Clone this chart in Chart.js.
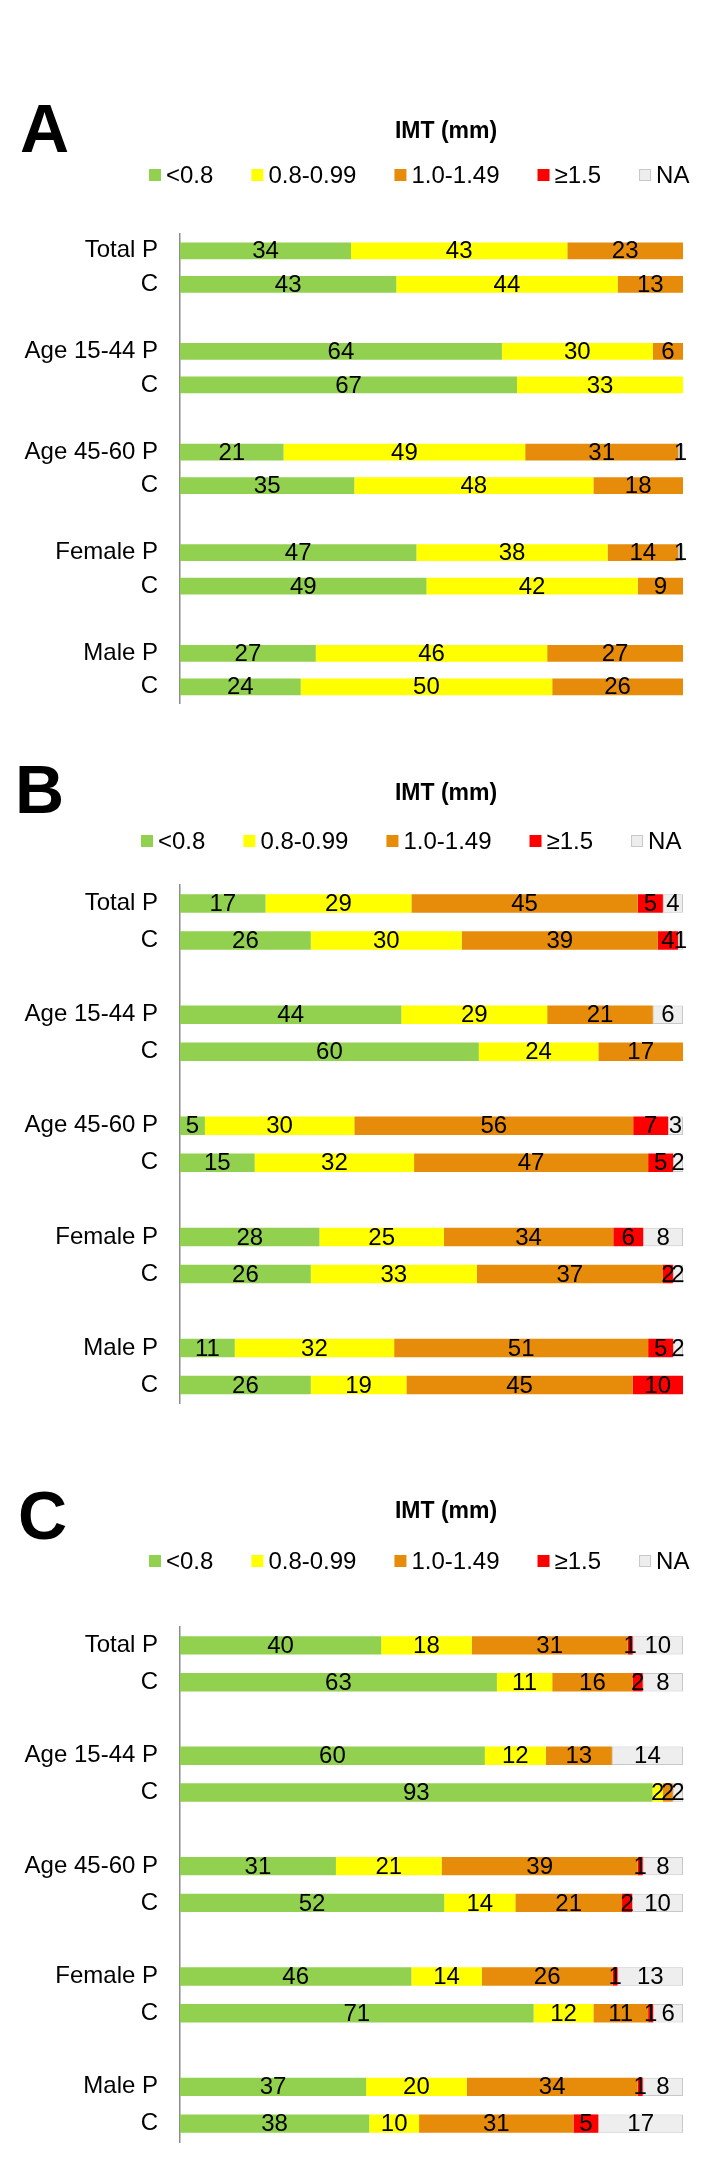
<!DOCTYPE html>
<html>
<head>
<meta charset="utf-8">
<script src="https://cdn.jsdelivr.net/npm/chart.js@4.4.1/dist/chart.umd.min.js"></script>
<style>
  html, body { margin: 0; padding: 0; background: #fff; }
  body { width: 720px; height: 2182px; position: relative; overflow: hidden; }
  canvas { position: absolute; left: 0; }
</style>
</head>
<body>
<canvas id="panelA" width="720" height="660" style="top:80px"></canvas>
<canvas id="panelB" width="720" height="700" style="top:740px"></canvas>
<canvas id="panelC" width="720" height="742" style="top:1440px"></canvas>
<script>
const rowLabels = ['Total P', 'C', 'Age 15-44 P', 'C', 'Age 45-60 P', 'C', 'Female P', 'C', 'Male P', 'C'];
const seriesNames = ['<0.8', '0.8-0.99', '1.0-1.49', '≥1.5', 'NA'];
const seriesColors = ['#92d050', '#ffff00', '#e68b0a', '#ff0000', '#eeeeee'];
const chartTitle = 'IMT (mm)';

// panel A
const aBelow08 = [34, 43, 64, 67, 21, 35, 47, 49, 27, 24];
const a08to099 = [43, 44, 30, 33, 49, 48, 38, 42, 46, 50];
const a10to149 = [23, 13, 6, 0, 31, 18, 14, 9, 27, 26];
const aAbove15 = [0, 0, 0, 0, 0, 0, 0, 0, 0, 0];
const aNA = [0, 0, 0, 0, 1, 0, 1, 0, 0, 0];

// panel B
const bBelow08 = [17, 26, 44, 60, 5, 15, 28, 26, 11, 26];
const b08to099 = [29, 30, 29, 24, 30, 32, 25, 33, 32, 19];
const b10to149 = [45, 39, 21, 17, 56, 47, 34, 37, 51, 45];
const bAbove15 = [5, 4, 0, 0, 7, 5, 6, 2, 5, 10];
const bNA = [4, 1, 6, 0, 3, 2, 8, 2, 2, 0];

// panel C
const cBelow08 = [40, 63, 60, 93, 31, 52, 46, 71, 37, 38];
const c08to099 = [18, 11, 12, 2, 21, 14, 14, 12, 20, 10];
const c10to149 = [31, 16, 13, 2, 39, 21, 26, 11, 34, 31];
const cAbove15 = [1, 2, 0, 0, 1, 2, 1, 1, 1, 5];
const cNA = [10, 8, 14, 2, 8, 10, 13, 6, 8, 17];

const FONT = '"Liberation Sans", Arial, sans-serif';

// empty slot after each P/C pair
function withGaps(arr, gap) {
  const out = [];
  arr.forEach((v, i) => {
    out.push(v);
    if (i % 2 === 1 && i < arr.length - 1) out.push(gap);
  });
  return out;
}

// 100% stacked, like the original spreadsheet chart
function buildDatasets(series) {
  const totals = rowLabels.map((_, i) => series.reduce((s, arr) => s + arr[i], 0));
  return series.map((arr, k) => ({
    label: seriesNames[k],
    raw: withGaps(arr, null),
    data: withGaps(arr.map((v, i) => (v ? (v / totals[i]) * 100 : null)), null),
    backgroundColor: seriesColors[k],
    borderColor: k === 4 ? '#c8c8c8' : seriesColors[k],
    borderWidth: k === 4 ? 1 : 0,
    borderSkipped: false,
    barPercentage: 0.5,
    categoryPercentage: 1
  }));
}

const panelDecor = {
  id: 'panelDecor',
  afterDatasetsDraw(chart) {
    const ctx = chart.ctx;
    ctx.save();
    ctx.font = '24px ' + FONT;
    ctx.fillStyle = '#000';
    ctx.textAlign = 'center';
    ctx.textBaseline = 'middle';
    chart.data.datasets.forEach((ds, i) => {
      chart.getDatasetMeta(i).data.forEach((bar, j) => {
        const v = ds.raw[j];
        if (!v) return;
        ctx.fillText(String(v), (bar.x + bar.base) / 2, bar.y + 1);
      });
    });
    ctx.restore();
  },
  afterDraw(chart, args, opts) {
    const ctx = chart.ctx;
    ctx.save();
    ctx.fillStyle = '#000';
    ctx.textBaseline = 'alphabetic';
    ctx.textAlign = 'left';
    ctx.font = 'bold 68px ' + FONT;
    ctx.fillText(opts.letter, opts.letterX, opts.letterY);

    ctx.textBaseline = 'middle';
    ctx.textAlign = 'center';
    ctx.font = 'bold 23px ' + FONT;
    ctx.fillText(chartTitle, 446, opts.titleY);

    ctx.textAlign = 'left';
    ctx.font = '24px ' + FONT;
    let x = opts.legendX;
    chart.data.datasets.forEach((ds) => {
      ctx.fillStyle = ds.backgroundColor;
      ctx.fillRect(x, opts.legendY - 6, 12, 12);
      if (ds.borderWidth) {
        ctx.strokeStyle = ds.borderColor;
        ctx.lineWidth = 1;
        ctx.strokeRect(x + 0.5, opts.legendY - 5.5, 11, 11);
      }
      ctx.fillStyle = '#000';
      ctx.fillText(ds.label, x + 17, opts.legendY + 1);
      x += 17 + ctx.measureText(ds.label).width + 38;
    });
    ctx.restore();
  }
};

function makePanel(id, series, pad, decor) {
  new Chart(document.getElementById(id), {
    type: 'bar',
    data: {
      labels: withGaps(rowLabels, ''),
      datasets: buildDatasets(series)
    },
    plugins: [panelDecor],
    options: {
      indexAxis: 'y',
      responsive: false,
      animation: false,
      devicePixelRatio: 1,
      layout: { padding: { top: pad.top, bottom: pad.bottom, left: 0, right: 37 } },
      scales: {
        x: { stacked: true, min: 0, max: 100, display: false },
        y: {
          stacked: true,
          grid: { display: false, drawTicks: false },
          border: { display: true, color: '#8c8c8c', width: 1.5 },
          ticks: { color: '#000', padding: 22, font: { family: FONT, size: 24 } },
          afterFit: (scale) => { scale.width = 180; }
        }
      },
      plugins: {
        legend: { display: false },
        title: { display: false },
        tooltip: { enabled: false },
        panelDecor: decor
      }
    }
  });
}

makePanel('panelA', [aBelow08, a08to099, a10to149, aAbove15, aNA],
  { top: 154, bottom: 22 },
  { letter: 'A', letterX: 20, letterY: 72, titleY: 52, legendX: 149, legendY: 95 });

makePanel('panelB', [bBelow08, b08to099, b10to149, bAbove15, bNA],
  { top: 145, bottom: 15 },
  { letter: 'B', letterX: 15, letterY: 73, titleY: 54, legendX: 141, legendY: 101 });

makePanel('panelC', [cBelow08, c08to099, c10to149, cAbove15, cNA],
  { top: 187, bottom: 40 },
  { letter: 'C', letterX: 18, letterY: 99, titleY: 72, legendX: 149, legendY: 121 });
</script>
</body>
</html>
